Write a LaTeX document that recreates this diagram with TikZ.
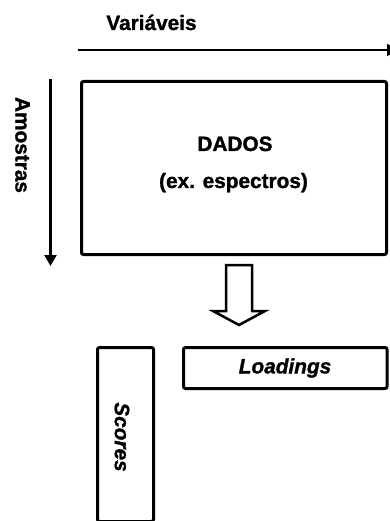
\documentclass[tikz,border=0pt]{standalone}
\usepackage{fontspec}
\setmainfont{Liberation Sans}[BoldFeatures={FakeBold=1.3}, BoldItalicFeatures={FakeBold=1.3}]
\usetikzlibrary{arrows.meta}
\begin{document}
\begin{tikzpicture}[x=1pt,y=1pt,
  lbl/.style={font=\bfseries\fontsize{20.8}{24}\selectfont, inner sep=0pt},
  ilbl/.style={font=\bfseries\itshape\fontsize{20.8}{24}\selectfont, inner sep=0pt},
  boxst/.style={draw, line width=3pt, rounded corners=2pt, inner sep=0pt},
  axisarrow/.style={line width=2.2pt, -{Triangle[width=12pt,length=11pt]}}
]
\useasboundingbox (0,0) rectangle (390,-521);
% labels
\node[lbl, anchor=base] (var) at (151.5,-30) {Variáveis};
\node[lbl, rotate=-90] (amo) at (22.5,-145) {Amostras};
% main box
\node[boxst, minimum width=305pt, minimum height=173pt] (dados) at (234,-168) {};
\node[lbl, anchor=base] (dadost) at (235,-151) {DADOS};
\node[lbl, anchor=base] (dadost2) at (233.5,-188) {(ex. espectros)};
% axis arrows
\coordinate (hs) at (78,-50);
\coordinate (he) at (398,-50);
\draw[axisarrow] (hs) -- (he);
\coordinate (vs) at (50.5,-79);
\coordinate (ve) at (50.5,-266);
\draw[axisarrow] (vs) -- (ve);
% hollow block arrow
\draw[line width=2.5pt, line join=miter] (226,-265) -- (252,-265) -- (252,-311) -- (265,-311)
  -- (239,-325) -- (213,-311) -- (226,-311) -- cycle;
% result boxes
\node[boxst, minimum width=203.5pt, minimum height=41pt] (load) at (285.25,-368) {};
\node[ilbl] (loadt) at (285,-368) {Loadings};
\node[boxst, minimum width=56pt, minimum height=174pt] (scores) at (125.5,-434.5) {};
\node[ilbl, rotate=-90] (scorest) at (122,-437) {Scores};
\end{tikzpicture}
\end{document}
